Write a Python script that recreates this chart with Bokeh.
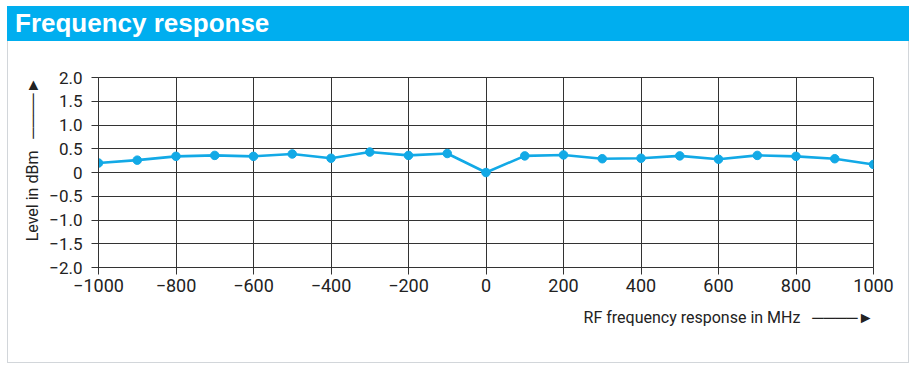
from bokeh.plotting import figure
from bokeh.models import Range1d, FixedTicker, Title, Div
from bokeh.layouts import column
from bokeh.embed import file_html
from bokeh.resources import INLINE

# ---- data ----
freq_mhz = [-1000, -900, -800, -700, -600, -500, -400, -300, -200, -100, 0,
            100, 200, 300, 400, 500, 600, 700, 800, 900, 1000]
level_dbm = [0.20, 0.26, 0.34, 0.36, 0.34, 0.39, 0.30, 0.43, 0.36, 0.40, 0.0,
             0.35, 0.37, 0.29, 0.30, 0.35, 0.28, 0.36, 0.34, 0.29, 0.17]
x_ticks = [-1000, -800, -600, -400, -200, 0, 200, 400, 600, 800, 1000]
x_tick_labels = ["\u22121000", "\u2212800", "\u2212600", "\u2212400", "\u2212200", "0",
                 "200", "400", "600", "800", "1000"]
y_ticks = [-2.0, -1.5, -1.0, -0.5, 0.0, 0.5, 1.0, 1.5, 2.0]
y_tick_labels = ["\u22122.0", "\u22121.5", "\u22121.0", "\u22120.5", "0", "0.5", "1.0", "1.5", "2.0"]
title_text = "Frequency response"
x_label = "RF frequency response in MHz"
y_label = "Level in dBm"

BLUE = "#00aeef"
LINE = "#12a9e6"
GRID = "#333333"
TXT = "#222222"
FONT = "Roboto"
BORDER = "#d2d6da"
ARROW = "\u00a0\u00a0\u00a0" + "\u2500" * 4 + "\u25ba"

W = 902

# ---- header band ----
hdr = Div(text=title_text, width=W, height=35, margin=0,
          styles={"background-color": BLUE, "color": "white",
                  "font-family": "Liberation Sans, Arial, sans-serif",
                  "font-weight": "bold", "font-size": "26px",
                  "line-height": "35px", "padding-left": "8px",
                  "box-sizing": "border-box", "white-space": "nowrap"})

# ---- main chart ----
p = figure(width=W, height=322, x_range=Range1d(-1000, 1000), y_range=Range1d(-2, 2),
           toolbar_location=None, output_backend="svg",
           min_border_left=90, min_border_right=37, min_border_top=36, min_border_bottom=96,
           background_fill_color="white", border_fill_color="white",
           outline_line_color=GRID, outline_line_width=1, margin=0,
           styles={"border-left": "1px solid " + BORDER, "border-right": "1px solid " + BORDER,
                   "border-bottom": "1px solid " + BORDER, "box-sizing": "border-box"})

p.xaxis.ticker = FixedTicker(ticks=x_ticks)
p.yaxis.ticker = FixedTicker(ticks=y_ticks)
p.xaxis.major_label_overrides = {t: l for t, l in zip(x_ticks, x_tick_labels)}
p.yaxis.major_label_overrides = {t: l for t, l in zip(y_ticks, y_tick_labels)}
for ax in (p.xaxis[0], p.yaxis[0]):
    ax.axis_line_color = GRID
    ax.major_tick_line_color = GRID
    ax.major_tick_out = 7
    ax.major_tick_in = 0
    ax.minor_tick_line_color = None
    ax.major_label_text_font = FONT
    ax.major_label_text_color = TXT
p.xaxis.major_label_text_font_size = "18px"
p.yaxis.major_label_text_font_size = "17px"
p.xaxis.major_label_standoff = 4
p.yaxis.major_label_standoff = 9

p.xgrid.ticker = FixedTicker(ticks=x_ticks)
p.ygrid.ticker = FixedTicker(ticks=y_ticks)
p.grid.grid_line_color = GRID
p.grid.grid_line_width = 1

p.line(freq_mhz, level_dbm, line_color=LINE, line_width=2.6)
p.scatter(freq_mhz, level_dbm, size=8.5, fill_color=LINE, line_color=LINE)

# axis titles with arrows
p.add_layout(Title(text=x_label + ARROW, align="right", offset=0, standoff=22,
                   text_font=FONT, text_font_size="16px", text_font_style="normal",
                   text_color=TXT), "below")
p.add_layout(Title(text=y_label + ARROW, align="right", offset=0, standoff=10,
                   text_font=FONT, text_font_size="16px", text_font_style="normal",
                   text_color=TXT), "left")

layout = column(hdr, p, spacing=0, styles={"margin-left": "7px", "margin-top": "6px"})
open("out.html", "w").write(file_html(layout, INLINE))
